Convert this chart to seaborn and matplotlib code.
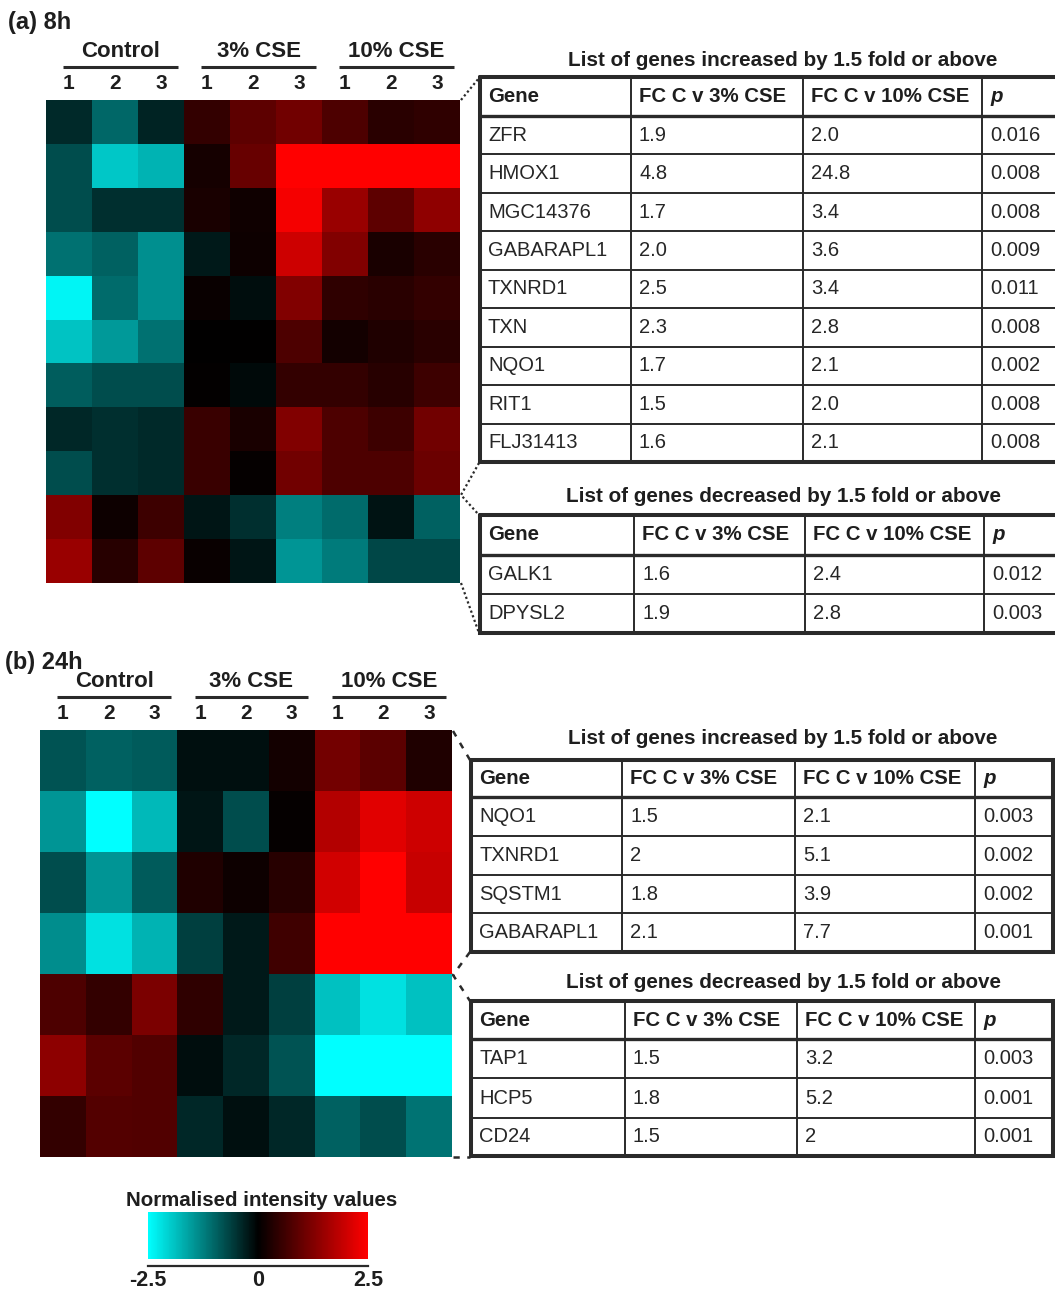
import numpy as np
import pandas as pd
import matplotlib
matplotlib.use("Agg")
import matplotlib.pyplot as plt
import matplotlib.transforms as mtransforms
from matplotlib.colors import LinearSegmentedColormap
import seaborn as sns

# ---------------- data ----------------
groups = ["Control", "3% CSE", "10% CSE"]
replicates = ["1", "2", "3"]
sample_cols = [f"{g} {r}" for g in groups for r in replicates]

# 8 h normalised intensity values (rows top to bottom)
genes_8h = ["ZFR", "HMOX1", "MGC14376", "GABARAPL1", "TXNRD1", "TXN",
            "NQO1", "RIT1", "FLJ31413", "GALK1", "DPYSL2"]
zfr_8h = [-0.40, -1.00, -0.35, 0.50, 0.90, 1.10, 0.75, 0.40, 0.45]
hmox1_8h = [-0.75, -1.95, -1.75, 0.20, 1.00, 2.50, 2.50, 2.50, 2.50]
mgc_8h = [-0.75, -0.45, -0.45, 0.25, 0.15, 2.40, 1.50, 0.90, 1.40]
gabarapl1_8h = [-1.10, -0.95, -1.40, -0.25, 0.12, 2.00, 1.25, 0.25, 0.40]
txnrd1_8h = [-2.40, -1.05, -1.40, 0.08, -0.12, 1.25, 0.45, 0.40, 0.50]
txn_8h = [-1.90, -1.50, -1.10, 0.00, 0.00, 0.75, 0.18, 0.30, 0.40]
nqo1_8h = [-0.90, -0.75, -0.75, 0.03, -0.08, 0.50, 0.50, 0.38, 0.60]
rit1_8h = [-0.38, -0.45, -0.40, 0.55, 0.25, 1.25, 0.75, 0.60, 1.10]
flj_8h = [-0.75, -0.45, -0.40, 0.55, 0.05, 1.10, 0.75, 0.75, 1.05]
galk1_8h = [1.25, 0.12, 0.60, -0.20, -0.45, -1.25, -1.05, -0.18, -0.95]
dpysl2_8h = [1.50, 0.38, 0.90, 0.08, -0.20, -1.45, -1.20, -0.70, -0.70]

# 24 h normalised intensity values (rows top to bottom)
genes_24h = ["NQO1", "TXNRD1", "SQSTM1", "GABARAPL1", "TAP1", "HCP5", "CD24"]
nqo1_24h = [-0.82, -0.95, -0.88, -0.15, -0.15, 0.18, 1.12, 0.88, 0.30]
txnrd1_24h = [-1.45, -2.50, -1.80, -0.20, -0.75, 0.05, 1.75, 2.20, 2.00]
sqstm1_24h = [-0.75, -1.45, -0.88, 0.30, 0.12, 0.38, 2.05, 2.50, 1.95]
gabarapl1_24h = [-1.38, -2.20, -1.75, -0.62, -0.25, 0.62, 2.50, 2.50, 2.50]
tap1_24h = [0.75, 0.50, 1.20, 0.45, -0.25, -0.62, -1.88, -2.20, -1.88]
hcp5_24h = [1.38, 0.88, 0.80, -0.12, -0.38, -0.82, -2.50, -2.50, -2.50]
cd24_24h = [0.50, 0.82, 0.80, -0.38, -0.15, -0.38, -0.95, -0.75, -1.12]

# Fold-change tables
table_header = ["Gene", "FC C v 3% CSE", "FC C v 10% CSE", "p"]

inc_8h_genes = ["ZFR", "HMOX1", "MGC14376", "GABARAPL1", "TXNRD1", "TXN", "NQO1", "RIT1", "FLJ31413"]
inc_8h_fc3 = ["1.9", "4.8", "1.7", "2.0", "2.5", "2.3", "1.7", "1.5", "1.6"]
inc_8h_fc10 = ["2.0", "24.8", "3.4", "3.6", "3.4", "2.8", "2.1", "2.0", "2.1"]
inc_8h_p = ["0.016", "0.008", "0.008", "0.009", "0.011", "0.008", "0.002", "0.008", "0.008"]

dec_8h_genes = ["GALK1", "DPYSL2"]
dec_8h_fc3 = ["1.6", "1.9"]
dec_8h_fc10 = ["2.4", "2.8"]
dec_8h_p = ["0.012", "0.003"]

inc_24h_genes = ["NQO1", "TXNRD1", "SQSTM1", "GABARAPL1"]
inc_24h_fc3 = ["1.5", "2", "1.8", "2.1"]
inc_24h_fc10 = ["2.1", "5.1", "3.9", "7.7"]
inc_24h_p = ["0.003", "0.002", "0.002", "0.001"]

dec_24h_genes = ["TAP1", "HCP5", "CD24"]
dec_24h_fc3 = ["1.5", "1.8", "1.5"]
dec_24h_fc10 = ["3.2", "5.2", "2"]
dec_24h_p = ["0.003", "0.001", "0.001"]

cbar_ticks = [-2.5, 0, 2.5]
cbar_ticklabels = ["-2.5", "0", "2.5"]

# ---------------- style ----------------
sns.set_style("white")
plt.rcParams["font.family"] = ["Liberation Sans", "DejaVu Sans"]
TXT = "#1e1e1e"
CELL = "#262626"
LINE = "#2a2a2a"

W, H = 1055, 1296
fig = plt.figure(figsize=(W / 100, H / 100), dpi=100)


def px_axes(x0, y0, x1, y1):
    return fig.add_axes([x0 / W, 1 - y1 / H, (x1 - x0) / W, (y1 - y0) / H])


# full-figure overlay in pixel units for tables, titles and connectors
ov = fig.add_axes([0, 0, 1, 1])
ov.set_xlim(0, W)
ov.set_ylim(H, 0)
ov.axis("off")

cmap = LinearSegmentedColormap.from_list("cyan_black_red",
                                         [(0.0, "#00ffff"), (0.5, "#000000"), (1.0, "#ff0000")])

df_8h = pd.DataFrame([zfr_8h, hmox1_8h, mgc_8h, gabarapl1_8h, txnrd1_8h, txn_8h,
                      nqo1_8h, rit1_8h, flj_8h, galk1_8h, dpysl2_8h],
                     index=genes_8h, columns=sample_cols)
df_24h = pd.DataFrame([nqo1_24h, txnrd1_24h, sqstm1_24h, gabarapl1_24h,
                       tap1_24h, hcp5_24h, cd24_24h],
                      index=genes_24h, columns=sample_cols)


def decorate_heatmap(ax, height_px):
    ax.xaxis.tick_top()
    ax.set_xticklabels(replicates * 3, rotation=0, fontsize=15, fontweight="bold", color=TXT)
    ax.tick_params(axis="x", length=0, pad=5)
    ax.set_xlabel("")
    ax.set_ylabel("")
    trans = mtransforms.blended_transform_factory(ax.transData, ax.transAxes)
    for gi, g in enumerate(groups):
        xc = 3 * gi + 1.62
        ax.plot([xc - 1.24, xc + 1.24], [1 + 33 / height_px] * 2, transform=trans,
                color=LINE, lw=2.2, clip_on=False, solid_capstyle="butt")
        ax.text(xc, 1 + 49 / height_px, g, transform=trans, ha="center", va="center",
                fontsize=16, fontweight="bold", color=TXT)


# ---- heatmap (a) with shared colour bar ----
ax_a = px_axes(46, 100, 460, 583)
cax = px_axes(148, 1212, 368, 1259)
sns.heatmap(df_8h, ax=ax_a, cmap=cmap, vmin=-2.5, vmax=2.5, yticklabels=False,
            cbar=True, cbar_ax=cax, cbar_kws={"orientation": "horizontal", "ticks": []})
decorate_heatmap(ax_a, 483)
for sp in cax.spines.values():
    sp.set_visible(False)

# ---- heatmap (b) ----
ax_b = px_axes(40, 730, 452, 1157)
sns.heatmap(df_24h, ax=ax_b, cmap=cmap, vmin=-2.5, vmax=2.5, yticklabels=False, cbar=False)
decorate_heatmap(ax_b, 427)

# colour bar scale ruler
ax_r = px_axes(148, 1260, 368, 1266)
ax_r.set_xlim(-2.5, 2.5)
ax_r.set_yticks([])
for s in ["top", "left", "right"]:
    ax_r.spines[s].set_visible(False)
ax_r.spines["bottom"].set_color(LINE)
ax_r.spines["bottom"].set_linewidth(1.6)
ax_r.patch.set_alpha(0)
ax_r.set_xticks(cbar_ticks)
ax_r.set_xticklabels(cbar_ticklabels, fontsize=15.5, fontweight="bold", color=TXT)
ax_r.tick_params(axis="x", direction="in", length=4.5, width=1.4, color=LINE, pad=3)
ov.text(262, 1201, "Normalised intensity values", ha="center", va="center",
        fontsize=14.8, fontweight="bold", color=TXT)

# panel labels
ov.text(8, 22, "(a) 8h", ha="left", va="center", fontsize=17, fontweight="bold", color=TXT)
ov.text(5, 662, "(b) 24h", ha="left", va="center", fontsize=17, fontweight="bold", color=TXT)


def draw_table(x_edges, y_edges, title, title_y, genes, fc3, fc10, pvals):
    x0, x1 = x_edges[0], x_edges[-1]
    y0, y1 = y_edges[0], y_edges[-1]
    ov.text(783, title_y, title, ha="center", va="center", fontsize=14.85,
            fontweight="bold", color=TXT)
    # inner grid
    for y in y_edges[2:-1]:
        ov.plot([x0, x1], [y, y], color=LINE, lw=1.4, solid_capstyle="butt")
    ov.plot([x0, x1], [y_edges[1], y_edges[1]], color=LINE, lw=2.4, solid_capstyle="butt")
    for x in x_edges[1:-1]:
        ov.plot([x, x], [y0, y1], color=LINE, lw=1.4, solid_capstyle="butt")
    # outer frame
    ov.plot([x0, x1, x1, x0, x0], [y0, y0, y1, y1, y0], color=LINE, lw=2.9,
            solid_joinstyle="miter")
    # header row
    hy = (y_edges[0] + y_edges[1]) / 2
    for ci, h in enumerate(table_header):
        style = "italic" if h == "p" else "normal"
        ov.text(x_edges[ci] + 8, hy, h, ha="left", va="center", fontsize=14.7,
                fontweight="bold", fontstyle=style, color=TXT)
    # body rows
    for ri, row in enumerate(zip(genes, fc3, fc10, pvals)):
        cy = (y_edges[ri + 1] + y_edges[ri + 2]) / 2
        for ci, val in enumerate(row):
            ov.text(x_edges[ci] + 8, cy, val, ha="left", va="center", fontsize=14.5,
                    color=CELL)


draw_table([480, 631, 803, 982, 1062], [77, 116] + list(np.linspace(116, 462, 10)[1:]),
           "List of genes increased by 1.5 fold or above", 61,
           inc_8h_genes, inc_8h_fc3, inc_8h_fc10, inc_8h_p)
draw_table([480, 634, 805, 984, 1062], [515, 555, 594, 633],
           "List of genes decreased by 1.5 fold or above", 497,
           dec_8h_genes, dec_8h_fc3, dec_8h_fc10, dec_8h_p)
draw_table([471, 622, 795, 975, 1053], [760, 797, 836, 875, 913, 952],
           "List of genes increased by 1.5 fold or above", 739,
           inc_24h_genes, inc_24h_fc3, inc_24h_fc10, inc_24h_p)
draw_table([471, 625, 797, 975, 1053], [1001, 1039, 1078, 1118, 1156],
           "List of genes decreased by 1.5 fold or above", 982,
           dec_24h_genes, dec_24h_fc3, dec_24h_fc10, dec_24h_p)

# dotted connectors between heatmap row blocks and tables
dot = dict(color=LINE, lw=1.6, linestyle=(0, (1, 1.2)))
ov.plot([461, 479], [100, 78], **dot)
ov.plot([479, 461, 479], [463, 495, 515], **dot)
ov.plot([461, 479], [583, 633], **dot)
dash = dict(color=LINE, lw=1.8, linestyle=(0, (2.5, 3)))
ov.plot([453, 470], [731, 760], **dash)
ov.plot([470, 453, 470], [952, 975, 1001], **dash)
ov.plot([453, 470], [1157, 1157], **dash)

fig.savefig("out.png", dpi=100)
